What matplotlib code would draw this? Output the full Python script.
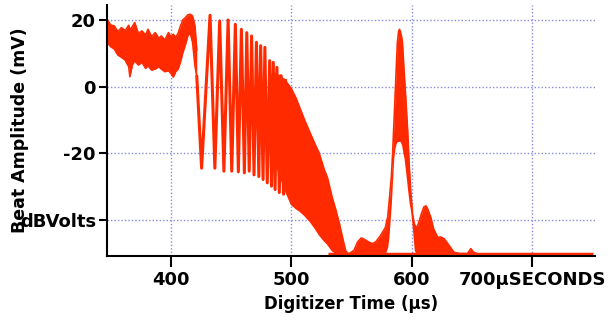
import numpy as np
import matplotlib.pyplot as plt

RED = '#ff2a00'
GRID = '#8a8ae0'

# noisy band before the beat starts (time in us, mV)
band1_t = [347, 350, 353, 356, 359, 362, 365, 366, 368, 370, 373, 376, 379, 381, 384, 387,
           390, 392, 395, 398, 400, 402, 404, 406, 408, 410, 412, 414, 416, 418, 420, 421.5]
band1_hi = [20.2, 18.5, 18.2, 16.5, 17.7, 16.8, 18.4, 17.0, 18.0, 19.2, 16.0, 16.7, 15.5, 17.2, 15.0, 16.2,
            14.5, 15.2, 14.0, 16.2, 15.0, 15.7, 14.8, 16.0, 18.2, 20.0, 20.7, 21.5, 21.7, 21.2, 18.2, 11.0]
band1_lo = [13.3, 12.0, 11.3, 9.5, 8.8, 8.0, 6.0, 3.0, 6.5, 7.8, 6.5, 7.3, 5.5, 6.3, 5.0, 5.3,
            6.0, 5.3, 4.5, 4.8, 4.0, 2.9, 4.5, 5.3, 7.5, 10.3, 12.5, 15.2, 16.2, 13.3, 6.3, 3.0]

# beat oscillation: alternating troughs and peaks
osc_t = [421.5, 425.5, 432.5, 436.5, 440.5, 444.0, 447.5, 450.5, 453.5, 456.0, 458.5, 461.0,
         463.0, 465.0, 467.0, 469.0, 471.0, 473.0, 474.5, 476.5, 478.0, 480.0, 482.0, 483.5,
         485.0, 486.5, 488.0, 490.0, 491.5, 493.5, 495.0]
osc_v = [3.0, -24.4, 21.4, -24.4, 19.7, -25.3, 20.0, -25.3, 18.7, -25.5, 17.2, -25.8,
         16.2, -25.3, 15.2, -26.4, 13.3, -26.9, 12.3, -27.8, 11.8, -28.8, 7.8, -29.8,
         7.3, -30.8, 5.8, -31.7, 3.3, -32.2, 1.9]

# dense part where the beat fills in solid
band2_t = [482, 486, 490, 495, 500, 504, 507, 511, 516, 520, 523, 527, 530, 534, 537, 540, 543, 545, 547]
band2_hi = [3.0, 4.0, 3.3, 1.9, -0.6, -3.5, -6.3, -10.0, -14.2, -17.5, -19.8, -24.5, -27.3, -33.3, -37.0, -41.2, -46.0, -49.1, -50.0]
band2_lo = [-18.0, -22.0, -26.0, -31.0, -35.2, -36.5, -37.2, -38.5, -40.5, -42.5, -44.2, -46.0, -47.1, -49.1, -49.8, -50.0, -50.0, -50.0, -50.0]

# second pulse
pulse_t = [548, 552, 555, 558, 561, 564, 567, 570, 574, 578, 580, 581, 583, 584, 585, 586, 587, 588, 589, 589.7,
           590.5, 591.5, 592.2, 593.5, 595, 596.5, 597.8, 599, 600.6, 602, 603.3, 605, 608, 610, 611.7, 613,
           615.8, 618, 621.4, 624, 627, 631, 635, 640, 646, 649, 651, 654]
pulse_hi = [-50, -49, -46.5, -45.3, -45.8, -46.5, -47.0, -46.5, -44.6, -42.2, -39, -35.2, -27, -20.4, -12, -3.6, 5, 13.3, 16.5, 17.2,
            16.5, 15.0, 13.3, 5, -3.6, -13, -23.4, -31, -38.2, -41, -42.2, -41.5, -38, -36, -35.7, -36.5,
            -39.2, -42.5, -45.1, -45.0, -45.6, -47.6, -49.6, -50, -50, -48.5, -49.5, -50]
pulse_lo = [-50, -50, -50, -50, -50, -50, -50, -50, -50, -50, -48, -45, -35, -28, -21.4, -18.5, -17, -16.4, -16.4, -16.4,
            -16.5, -17.5, -19, -21.4, -26, -31, -35, -37.2, -43, -49, -50, -50, -50, -50, -50, -50,
            -50, -50, -50, -50, -50, -50, -50, -50, -50, -50, -50, -50]

floor_t = [530, 750]
floor_v = [-50, -50]

xticks = [400, 500, 600, 700]
xtick_labels = ['400', '500', '600', '700\u00b5SECONDS']
yticks = [20, 0, -20, -40]
ytick_labels = ['20', '0', '-20', 'dBVolts']

fig = plt.figure(figsize=(6.13, 3.29), dpi=100)
ax = fig.add_axes([0.1746, 0.222, 0.796, 0.763])

ax.fill_between(band1_t, band1_lo, band1_hi, color=RED, lw=0)
ax.plot(band1_t, band1_hi, color=RED, lw=1.2)
ax.plot(band1_t, band1_lo, color=RED, lw=1.2)
ax.plot(osc_t, osc_v, color=RED, lw=2.2)
ax.fill_between(band2_t, band2_lo, band2_hi, color=RED, lw=0)
ax.plot(band2_t, band2_hi, color=RED, lw=1.2)
ax.plot(band2_t, band2_lo, color=RED, lw=1.2)
ax.fill_between(pulse_t, pulse_lo, pulse_hi, color=RED, lw=0)
ax.plot(pulse_t, pulse_hi, color=RED, lw=1.2)
ax.plot(floor_t, floor_v, color=RED, lw=2.5, solid_capstyle='butt')

ax.set_xlim(347, 752)
ax.set_ylim(-50.7, 24.5)
ax.set_xticks(xticks)
ax.set_xticklabels(xtick_labels)
ax.set_yticks(yticks)
ax.set_yticklabels(ytick_labels)
ax.grid(True, color=GRID, linestyle=(0, (1, 1.5)), lw=1)
ax.set_axisbelow(True)

for s in ['top', 'right']:
    ax.spines[s].set_visible(False)
for s in ['left', 'bottom']:
    ax.spines[s].set_linewidth(1.5)
ax.tick_params(axis='x', length=8, width=1.5, pad=3)
ax.tick_params(axis='y', length=6, width=1.5, pad=2)
for lab in ax.get_xticklabels() + ax.get_yticklabels():
    lab.set_fontweight('bold')
    lab.set_fontsize(13)

ax.set_xlabel('Digitizer Time (\u00b5s)', fontsize=12, fontweight='bold', labelpad=4)
ax.set_ylabel('Beat Amplitude (mV)', fontsize=12.5, fontweight='bold')
ax.yaxis.set_label_coords(-0.16, 0.5)

fig.savefig('out.png', dpi=100)
